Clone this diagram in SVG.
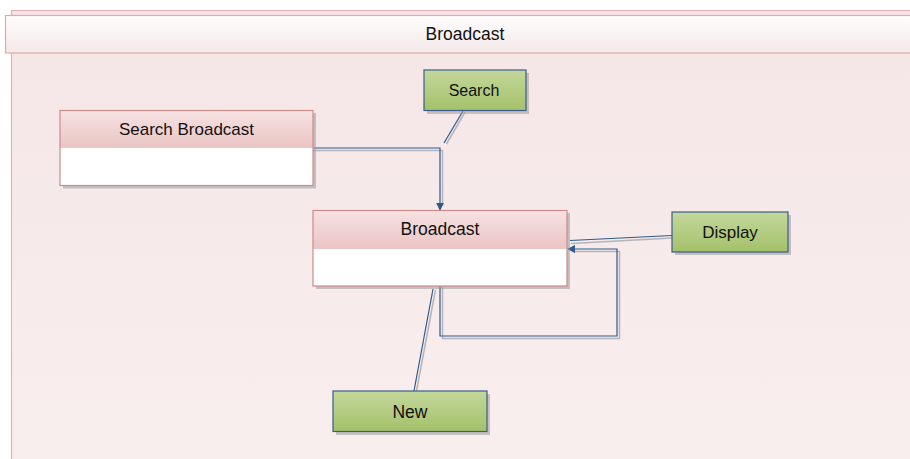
<svg xmlns="http://www.w3.org/2000/svg" width="910" height="459" viewBox="0 0 910 459">
<defs>
<linearGradient id="bg" x1="0" y1="0" x2="0" y2="1">
<stop offset="0" stop-color="#F5E6E6"/>
<stop offset="1" stop-color="#F9EEEE"/>
</linearGradient>
<linearGradient id="title" x1="0" y1="0" x2="0" y2="1">
<stop offset="0" stop-color="#FFFDFE"/>
<stop offset="1" stop-color="#F5E8E8"/>
</linearGradient>
<linearGradient id="pink" x1="0" y1="0" x2="0" y2="1">
<stop offset="0" stop-color="#F6E2E2"/>
<stop offset="1" stop-color="#EBC4C4"/>
</linearGradient>
<linearGradient id="green" x1="0" y1="0" x2="0" y2="1">
<stop offset="0" stop-color="#C4D79C"/>
<stop offset="1" stop-color="#A4C169"/>
</linearGradient>
<marker id="arr" viewBox="0 0 10 10" refX="9" refY="5" markerWidth="8" markerHeight="8" markerUnits="userSpaceOnUse" orient="auto">
<path d="M0,0 L10,5 L0,10 z" fill="#2E5A8C"/>
</marker>
</defs>
<style>
.lbl{font-family:"Liberation Sans",Arial,sans-serif;fill:#111;text-anchor:middle}
.shadow{fill:#9A9A9A;opacity:0.55}
.hdr{fill:url(#pink);stroke:none}
.body{fill:#FFFFFF;stroke:none}
.pframe{fill:none;stroke:#CF8A8A;stroke-width:1.2}
.gbox{fill:url(#green);stroke:#385D8A;stroke-width:1.2}
.line{fill:none;stroke:#2E5A8C;stroke-width:1.2}
.lshadow{fill:none;stroke:#B4B4BC;stroke-width:1.5}
</style>
<rect x="0" y="0" width="910" height="459" fill="#FFFFFF"/>
<g id="container">
<rect x="11.5" y="10.5" width="910" height="460" fill="url(#bg)" stroke="#E2B4B4" stroke-width="1.2"/>
<rect x="5.5" y="15.5" width="910" height="37.5" fill="url(#title)" stroke="#DDA9A9" stroke-width="1.2"/>
<text class="lbl" x="465" y="40" font-size="17.5">Broadcast</text>
</g>
<g id="connectors">
<polyline class="lshadow" points="313,150.5 442.5,150.5 442.5,206"/>
<polyline class="line" points="313,148 440,148 440,210" marker-end="url(#arr)"/>
<line class="lshadow" x1="465" y1="112" x2="446.5" y2="144"/>
<line class="line" x1="463" y1="111" x2="444" y2="143"/>
<line class="lshadow" x1="672" y1="238" x2="571" y2="243.5"/>
<line class="line" x1="672" y1="235.5" x2="570" y2="240.5"/>
<polyline class="lshadow" points="442.5,287 442.5,338.5 619.5,338.5 619.5,251.5 572,251.5"/>
<polyline class="line" points="440,286 440,336 617,336 617,249 568,249" marker-end="url(#arr)"/>
<line class="lshadow" x1="416.5" y1="391" x2="435.5" y2="290"/>
<line class="line" x1="414" y1="391" x2="433" y2="289"/>
</g>
<g id="node-search-broadcast">
<rect class="shadow" x="63" y="113" width="253" height="75.5"/>
<rect class="hdr" x="60" y="110.5" width="253" height="37.5"/>
<rect class="body" x="60" y="148" width="253" height="37.5"/>
<rect class="pframe" x="60" y="110.5" width="253" height="75"/>
<text class="lbl" x="186.5" y="135" font-size="17">Search Broadcast</text>
</g>
<g id="node-broadcast">
<rect class="shadow" x="316" y="213" width="254" height="76"/>
<rect class="hdr" x="313" y="210.5" width="254" height="38.5"/>
<rect class="body" x="313" y="249" width="254" height="37"/>
<rect class="pframe" x="313" y="210.5" width="254" height="75.5"/>
<text class="lbl" x="440" y="235" font-size="17.5">Broadcast</text>
</g>
<g id="node-search">
<rect class="shadow" x="427" y="73" width="102" height="41"/>
<rect class="gbox" x="424" y="70" width="102" height="40.5"/>
<text class="lbl" x="474" y="95.5" font-size="16">Search</text>
</g>
<g id="node-display">
<rect class="shadow" x="675" y="215" width="116" height="40"/>
<rect class="gbox" x="672" y="212" width="116" height="40"/>
<text class="lbl" x="730" y="238" font-size="17">Display</text>
</g>
<g id="node-new">
<rect class="shadow" x="336" y="394" width="154" height="41"/>
<rect class="gbox" x="333" y="391" width="154" height="40.5"/>
<text class="lbl" x="410" y="418" font-size="17.5">New</text>
</g>
</svg>
